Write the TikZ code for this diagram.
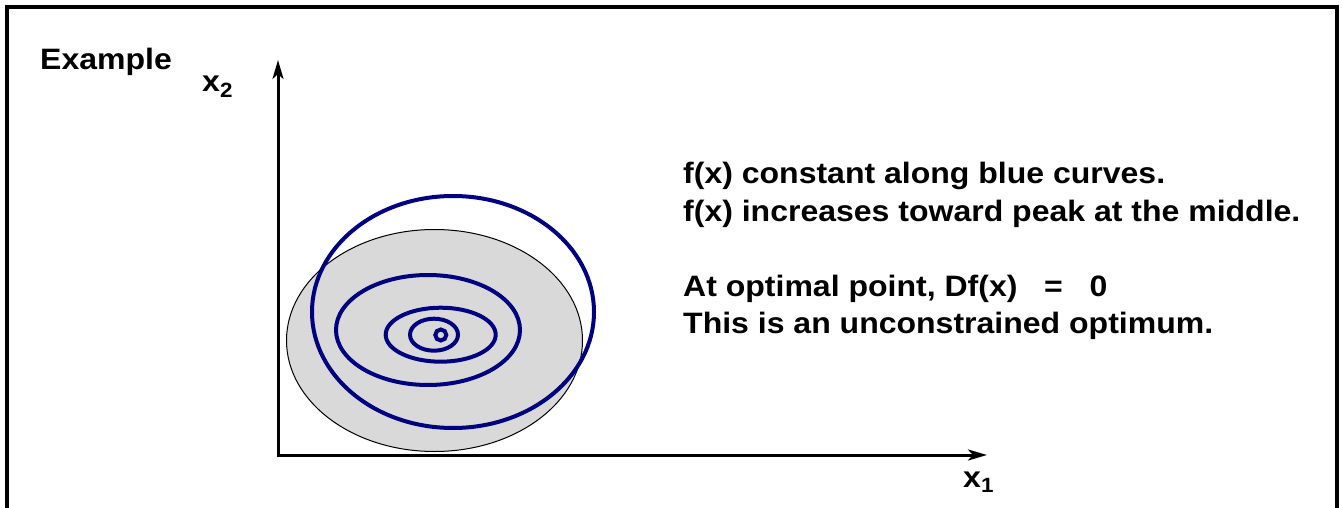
\documentclass[tikz,border=0pt]{standalone}
\usepackage{fontspec}
\setmainfont[FakeStretch=1.085]{Liberation Sans}
\usetikzlibrary{arrows.meta}
\definecolor{curveblue}{RGB}{0,0,128}
\definecolor{regiongray}{RGB}{217,217,217}
\tikzset{
  contour/.style={draw=curveblue, line width=4pt},
  axis/.style={line width=3pt, {Stealth[length=19pt,width=11pt,inset=5pt]}-{Stealth[length=19pt,width=11pt,inset=5pt]}},
}
\begin{document}
\begin{tikzpicture}[x=1pt,y=-1pt, every node/.style={font=\fontsize{29.5}{38}\selectfont\bfseries, inner sep=0pt}]
\useasboundingbox (0,0) rectangle (1342,508);
% frame, open at the bottom
\draw[line width=4pt] (7,520) -- (7,7) -- (1337,7) -- (1337,520);
% axes
\coordinate (origin) at (278,455);
\coordinate (xend) at (987,455);
\coordinate (yend) at (278,60);
\draw[axis] (yend) -- (origin) -- (xend);
\node[anchor=base west] (xtwo) at (202,92) {x\textsubscript{2}};
\node[anchor=base west] (xone) at (963,487) {x\textsubscript{1}};
\node[anchor=base west] (example) at (40,70) {Example};
% feasible region
\draw[fill=regiongray, line width=1pt] (434.5,340.5) ellipse [x radius=148, y radius=111];
% level curves of f
\draw[contour] (453,312) ellipse [x radius=141, y radius=116];
\draw[contour] (428,330) ellipse [x radius=92, y radius=55];
\draw[contour] (440.7,334.7) ellipse [x radius=55, y radius=27];
\draw[contour] (434,334.7) ellipse [x radius=24, y radius=16];
\draw[contour] (440.8,335) ellipse [x radius=5.5, y radius=5.5];
% remarks
\node[anchor=base west] (lineA) at (683,183) {f(x) constant along blue curves.};
\node[anchor=base west] (lineB) at (683,221) {f(x) increases toward peak at the middle.};
\node[anchor=base west] (lineC) at (683,296) {At optimal point, Df(x)~~~=~~~0};
\node[anchor=base west] (lineD) at (683,333) {This is an unconstrained optimum.};
\end{tikzpicture}
\end{document}
